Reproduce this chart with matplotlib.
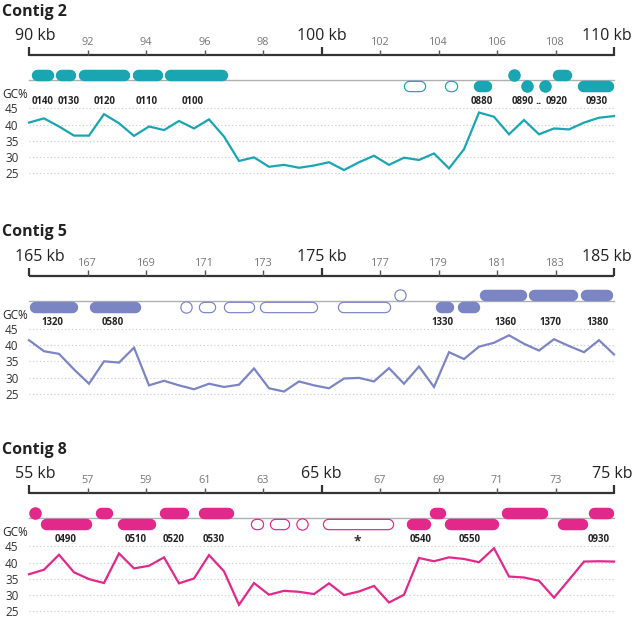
import numpy as np
import matplotlib
matplotlib.use('Agg')
import matplotlib.pyplot as plt

plt.rcParams['font.family'] = ['Open Sans', 'DejaVu Sans']

# ---------------- data ----------------
contig_names = ['Contig 2', 'Contig 5', 'Contig 8']
contig_ranges = [(90, 110), (165, 185), (55, 75)]
contig_colors = ['#19a6b2', '#7c85c4', '#e2288a']
contig_minor_ticks = [
    [92, 94, 96, 98, 102, 104, 106, 108],
    [167, 169, 171, 173, 177, 179, 181, 183],
    [57, 59, 61, 63, 67, 69, 71, 73],
]

gc2 = [40.6, 41.9, 39.4, 36.6, 36.6, 43.2, 40.4, 36.5, 39.4, 38.3,
       41.1, 38.8, 41.6, 36.3, 28.8, 29.9, 27.0, 27.6, 26.7, 27.4,
       28.4, 26.0, 28.4, 30.4, 27.6, 29.8, 29.1, 31.1, 26.5, 32.4,
       43.7, 42.4, 37.0, 41.4, 37.0, 38.8, 38.5, 40.6, 42.1, 42.6]
gc5 = [41.5, 38.1, 37.3, 32.5, 28.1, 35.0, 34.6, 39.2, 27.6, 29.0,
       27.6, 26.4, 28.1, 27.1, 27.8, 32.8, 26.7, 25.7, 28.8, 27.6,
       26.7, 29.7, 29.9, 28.8, 32.9, 28.1, 33.4, 27.1, 37.8, 35.7,
       39.5, 40.7, 43.0, 40.4, 38.3, 41.8, 39.7, 37.8, 41.5, 37.1]
gc8 = [36.4, 37.8, 42.4, 37.0, 34.9, 33.7, 42.8, 38.2, 39.0, 41.6,
       33.6, 35.1, 42.3, 37.3, 27.0, 33.7, 30.1, 31.3, 31.0, 30.3,
       33.6, 30.0, 31.1, 32.8, 27.7, 30.1, 41.4, 40.4, 41.6, 41.1,
       40.1, 44.4, 35.7, 35.4, 34.4, 29.2, 34.7, 40.3, 40.4, 40.3]
contig_gc = [gc2, gc5, gc8]

# genes: start, end (kb), side (+1 above line, -1 below), filled
g2_start = [90.09, 90.89, 91.69, 93.54, 94.64, 102.79, 104.19, 105.19, 106.36, 106.79, 107.45, 107.88, 108.73]
g2_end = [90.86, 91.61, 93.46, 94.57, 96.81, 103.56, 104.66, 105.82, 106.79, 107.23, 107.82, 108.54, 110.0]
g2_side = [1, 1, 1, 1, 1, -1, -1, -1, 1, -1, -1, 1, -1]
g2_fill = [1, 1, 1, 1, 1, 0, 0, 1, 1, 1, 1, 1, 1]

g5_start = [165.01, 167.06, 170.18, 170.80, 171.63, 172.86, 175.53, 177.49, 178.90, 179.63, 180.41, 182.08, 183.85]
g5_end = [166.67, 168.83, 170.54, 171.37, 172.73, 174.86, 177.36, 177.91, 179.51, 180.41, 182.02, 183.77, 184.95]
g5_side = [-1, -1, -1, -1, -1, -1, -1, 1, -1, -1, 1, 1, 1]
g5_fill = [1, 1, 0, 0, 0, 0, 0, 0, 1, 1, 1, 1, 1]

g8_start = [55.0, 55.38, 57.26, 58.0, 59.46, 60.77, 62.55, 63.20, 64.15, 65.02, 67.91, 68.67, 69.20, 71.13, 73.07, 74.11]
g8_end = [55.38, 57.13, 57.87, 59.32, 60.46, 62.0, 63.03, 63.92, 64.54, 67.48, 68.73, 69.26, 71.05, 72.74, 74.10, 75.0]
g8_side = [1, -1, 1, -1, 1, 1, -1, -1, -1, -1, -1, 1, -1, 1, -1, 1]
g8_fill = [1, 1, 1, 1, 1, 1, 0, 0, 0, 0, 1, 1, 1, 1, 1, 1]

contig_genes = [
    (g2_start, g2_end, g2_side, g2_fill),
    (g5_start, g5_end, g5_side, g5_fill),
    (g8_start, g8_end, g8_side, g8_fill),
]

lab2_text = ['0140', '0130', '0120', '0110', '0100', '0880', '0890', '..', '0920', '0930']
lab2_pos = [90.47, 91.35, 92.58, 94.03, 95.58, 105.48, 106.87, 107.43, 108.02, 109.42]
lab5_text = ['1320', '0580', '1330', '1360', '1370', '1380']
lab5_pos = [165.81, 167.86, 179.14, 181.30, 182.84, 184.42]
lab8_text = ['0490', '0510', '0520', '0530', '*', '0540', '0550', '0930']
lab8_pos = [56.26, 58.66, 59.95, 61.30, 66.23, 68.40, 70.08, 74.48]
contig_labels = [(lab2_text, lab2_pos), (lab5_text, lab5_pos), (lab8_text, lab8_pos)]

gc_ticks = [25, 30, 35, 40, 45]

# ---------------- layout (pixels) ----------------
W, H = 633, 620
DPI = 100
fig = plt.figure(figsize=(W / DPI, H / DPI), dpi=DPI)
panel_tops = [0, 220.5, 438.0]
X0, X1 = 29, 614
PX = 72 / DPI  # points per pixel
PAD_PX = 3.0   # extra room around the GC axes

def fy(py):
    return 1 - py / H

for name, (s, e), col, minors, gc, genes, labs, T in zip(
        contig_names, contig_ranges, contig_colors, contig_minor_ticks,
        contig_gc, contig_genes, contig_labels, panel_tops):
    # track axes: x in kb, y in pixels from panel top
    ax = fig.add_axes([X0 / W, fy(T + 110), (X1 - X0) / W, 110 / H])
    ax.set_xlim(s, e)
    ax.set_ylim(110, 0)
    ax.axis('off')
    kbpp = (e - s) / (X1 - X0)

    # title
    fig.text(2 / W, fy(T + 15.5), name, fontsize=11.5, fontweight='bold',
             color='#222222', va='baseline', ha='left')

    # scale axis
    ax.plot([s, e], [55, 55], color='#333333', lw=1.6, solid_capstyle='butt', clip_on=False)
    majors = [s, (s + e) / 2, e]
    for m in majors:
        ax.plot([m, m], [47, 55.6], color='#333333', lw=1.6, solid_capstyle='butt', clip_on=False)
    for m in minors:
        ax.plot([m, m], [49.5, 55], color='#555555', lw=1.0, solid_capstyle='butt', clip_on=False)
        ax.text(m, 45, str(m), fontsize=7.8, color='#777777', ha='center', va='baseline')
    ax.text(s - 14 * kbpp, 40, f'{s} kb', fontsize=11.5, color='#222222', ha='left', va='baseline')
    ax.text((s + e) / 2, 40, f'{int((s + e) / 2)} kb', fontsize=11.5, color='#222222', ha='center', va='baseline')
    ax.text(e + 18 * kbpp, 40, f'{e} kb', fontsize=11.5, color='#222222', ha='right', va='baseline', clip_on=False)

    # gene baseline
    ax.plot([s, e], [80, 80], color='#b0b0b0', lw=1.0, zorder=1, clip_on=False)

    # genes as capsules
    gh = 11.5
    r = gh / 2 * kbpp
    for gs, ge, side, filled in zip(*genes):
        yc = 74.6 if side > 0 else 86.0
        a, b = gs + r, ge - r
        if b - a < 0.05:
            c = (gs + ge) / 2
            ax.plot([c], [yc], marker='o', ms=(gh - 0.2) * PX,
                    mfc=col if filled else 'white', mec=col,
                    mew=1.2 * PX, zorder=3, clip_on=False)
            continue
        ax.plot([a, b], [yc, yc], color=col, lw=gh * PX, solid_capstyle='round',
                zorder=3, clip_on=False)
        if not filled:
            ax.plot([a, b], [yc, yc], color='white', lw=(gh - 2.4) * PX,
                    solid_capstyle='round', zorder=4, clip_on=False)

    # gene labels
    for t, p in zip(*labs):
        if t == '*':
            ax.text(p, 107.5, t, fontsize=10, fontweight='bold', color='#333333',
                    ha='center', va='baseline')
        elif t == '..':
            ax.text(p, 104.5, t, fontsize=8, fontweight='bold', color='#222222',
                    ha='center', va='baseline')
        else:
            ax.text(p, 104.5, t, fontsize=6.9, fontweight='bold', color='#222222',
                    ha='center', va='baseline')

    # GC label
    fig.text(2 / W, fy(T + 98.5), 'GC%', fontsize=8.5, color='#222222', va='baseline', ha='left')

    # GC axes (45 at gtop, 25 at gtop+65 px), with a little padding
    gtop = T + 108.3
    ppu = 65 / 20.0  # pixels per GC unit
    pad_u = PAD_PX / ppu
    gax = fig.add_axes([X0 / W, fy(gtop + 65 + PAD_PX), (X1 - X0) / W, (65 + 2 * PAD_PX) / H])
    gax.set_xlim(s, e)
    gax.set_ylim(25 - pad_u, 45 + pad_u)
    for sp in gax.spines.values():
        sp.set_visible(False)
    gax.set_xticks([])
    gax.set_yticks(gc_ticks)
    gax.set_yticklabels([str(v) for v in gc_ticks], fontsize=8.5, color='#333333')
    gax.tick_params(axis='y', length=0, pad=7.5)
    for v in gc_ticks:
        gax.plot([s, e], [v, v], color='#c8c8c8', lw=0.8, ls=(0, (1, 2.2)), zorder=1)
    gx = np.linspace(s, e, len(gc))
    gax.plot(gx, gc, color=col, lw=1.6, zorder=3, clip_on=False, solid_joinstyle='miter')
    gax.patch.set_alpha(0)

fig.savefig('out.png', dpi=DPI)
